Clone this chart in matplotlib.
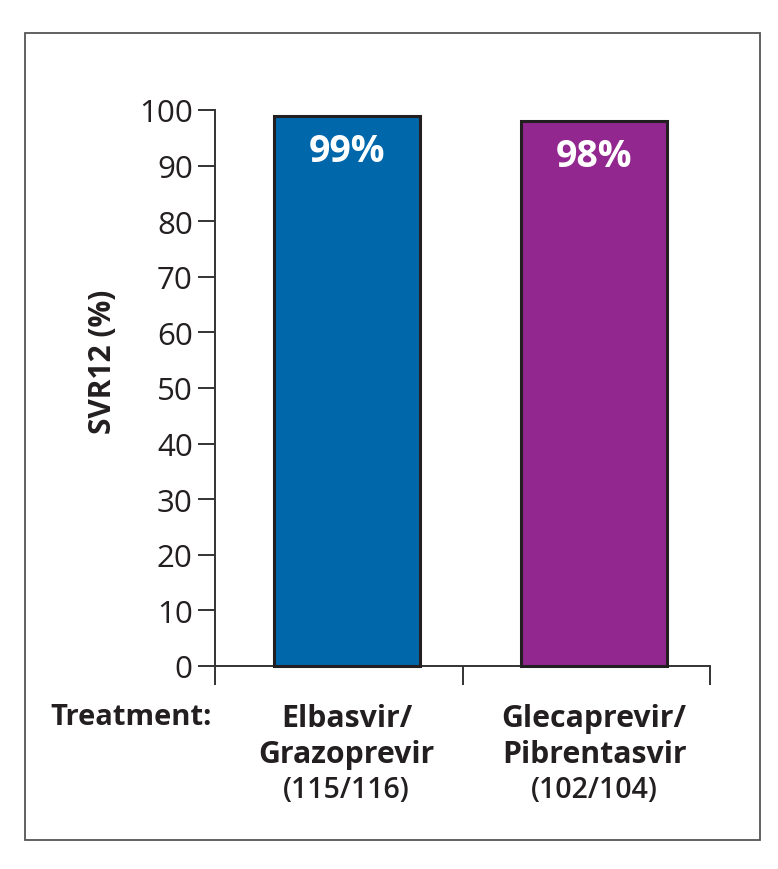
import matplotlib.pyplot as plt
import matplotlib.transforms as mtransforms
from matplotlib.patches import Rectangle

# data
treatments = ['Elbasvir/', 'Glecaprevir/']
treatments2 = ['Grazoprevir', 'Pibrentasvir']
counts = ['(115/116)', '(102/104)']
svr12 = [99, 98]
bar_labels = ['99%', '98%']
colors = ['#0067AB', '#92278F']

plt.rcParams['font.family'] = ['Open Sans', 'DejaVu Sans']
ink = '#231F20'

W, H = 778, 870
fig = plt.figure(figsize=(W / 100, H / 100), dpi=100)
# axes: x 215..710 px, y 111..667 px
ax = fig.add_axes([215 / W, 1 - 667 / H, 495 / W, 556 / H])

x = list(range(len(svr12)))
ax.bar(x, svr12, width=0.59, color=colors, edgecolor=ink, linewidth=2.2, zorder=3, clip_on=False)

for xi, v, lab in zip(x, svr12, bar_labels):
    ax.text(xi, v - 8.1, lab, ha='center', va='baseline', color='white',
            fontsize=27, fontweight='bold', zorder=4)

ax.set_xlim(-0.532, 1.468)
ax.set_ylim(0, 100)
ax.set_yticks(range(0, 101, 10))
ax.tick_params(axis='y', labelsize=22.5, length=12, width=1.4, color='#333333', pad=4,
               labelcolor=ink)
ax.set_xticks([-0.532, 0.468, 1.468])
ax.set_xticklabels([])
ax.tick_params(axis='x', length=14, width=1.4, color='#333333')
for s in ['top', 'right']:
    ax.spines[s].set_visible(False)
for s in ['left', 'bottom']:
    ax.spines[s].set_linewidth(1.4)
    ax.spines[s].set_color('#333333')
ax.set_ylabel('SVR12 (%)', fontsize=21.5, fontweight='bold', color=ink)
ax.yaxis.set_label_coords(-0.226, 0.549)
ax.yaxis.label.set_verticalalignment('center')

trans = mtransforms.blended_transform_factory(ax.transData, fig.transFigure)
for xi, t1, t2, c in zip(x, treatments, treatments2, counts):
    ax.text(xi, 1 - 727 / H, t1, ha='center', va='baseline', fontsize=21.8,
            fontweight='bold', transform=trans, color=ink)
    ax.text(xi, 1 - 763 / H, t2, ha='center', va='baseline', fontsize=21.8,
            fontweight='bold', transform=trans, color=ink)
    ax.text(xi, 1 - 798 / H, c, ha='center', va='baseline', fontsize=20.5,
            fontweight='semibold', transform=trans, color=ink)

fig.text(50 / W, 1 - 725 / H, 'Treatment:', ha='left', va='baseline', fontsize=21,
         fontweight='bold', color=ink)

fig.patches.append(Rectangle((25 / W, 1 - 841 / H), 735 / W, 807 / H,
                             transform=fig.transFigure, fill=False,
                             edgecolor='#555555', linewidth=1.3))

fig.savefig('out.png', dpi=100)
